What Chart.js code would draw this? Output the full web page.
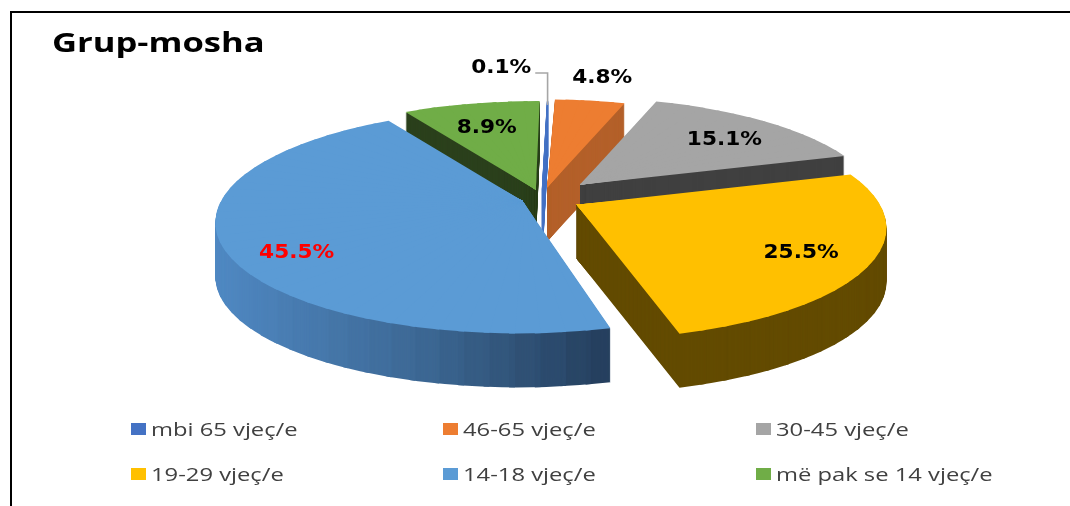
<!DOCTYPE html>
<html><head><meta charset="utf-8">
<script src="https://cdn.jsdelivr.net/npm/chart.js@4.4.0/dist/chart.umd.min.js"></script>
<style>
html,body{margin:0;padding:0;background:#fff;width:1070px;height:506px;overflow:hidden;position:relative;}
#frame{position:absolute;left:10px;top:11px;width:1070px;height:506px;border-top:2px solid #000;border-left:2px solid #000;box-sizing:border-box;}
#title{position:absolute;left:52px;top:24px;font:bold 26px 'Open Sans';color:#000;transform:scaleX(1.33);transform-origin:left top;white-space:nowrap;}
canvas{position:absolute;left:0;top:0;}
.lg{position:absolute;display:flex;align-items:center;height:26px;line-height:26px;font:19px 'Open Sans';color:#404040;transform:scaleX(1.25);transform-origin:left center;white-space:nowrap;}
.lg i{display:inline-block;width:12px;height:12px;margin-right:4px;}
</style></head>
<body>
<div id="frame"></div>
<canvas id="c" width="1070" height="506"></canvas>
<div id="title">Grup-mosha</div>
<div id="legend"></div>
<script>
// ---- data ----
const categories = ['mbi 65 vjeç/e', '46-65 vjeç/e', '30-45 vjeç/e', '19-29 vjeç/e', '14-18 vjeç/e', 'më pak se 14 vjeç/e'];
const shares = [0.1, 4.8, 15.1, 25.5, 45.5, 8.9];
const valueLabels = ['0.1%', '4.8%', '15.1%', '25.5%', '45.5%', '8.9%'];

// ---- styles ----
const topColors = ['#4472C4', '#ED7D31', '#A5A5A5', '#FFC000', '#5B9BD5', '#70AD47'];
const sideColors = ['#4472C4', '#B4602A', '#404040', '#634B00', 'GRAD', '#2B401C'];
const labelColors = ['#000', '#000', '#000', '#000', '#FF0000', '#000'];
const explode = [0.08, 0.10, 0.18, 0.13, 0.07, 0.08];     // point explosion (fraction of radius)
// label placement: [angle shift from slice middle (deg), radius fraction]
const labelPlace = [[-8.0, 1.478], [0.2, 1.321], [3.2, 0.72], [2.1, 0.79], [-9.6, 0.813], [-0.8, 0.688]];

// 3-D camera (perspective projection of the pie plane) and depth
const CAM = {X0: 542, Y0: 198, A: 300, B: 107.4, q: 0.18, depth: 54};
const P = (u, v) => { const s = 1 / (1 - CAM.q * v); return [CAM.X0 + CAM.A * u * s, CAM.Y0 + CAM.B * v * s]; };

function drawWith(arc, ctx, fill) {
  const saved = arc.options;
  const o = Object.create(saved);
  Object.defineProperty(o, 'backgroundColor', {value: fill});
  arc.options = o;
  arc.draw(ctx);
  arc.options = saved;
}

// split every arc element into thin wedges, each with its own affine map of the projection
function slicePieces(arc, r0) {
  const off = (arc.options.offset || 0) / 4;
  const mid = (arc.startAngle + arc.endAngle) / 2;
  const fix = 1 - Math.sin(Math.min(Math.PI, arc.circumference));
  const R = arc.outerRadius + off * fix;
  const ax = arc.x + Math.cos(mid) * off, ay = arc.y + Math.sin(mid) * off;
  const eu = Math.cos(mid) * off / r0, ev = Math.sin(mid) * off / r0;
  const S0 = P(eu, ev);
  const n = Math.max(1, Math.ceil(arc.circumference / (4 * Math.PI / 180)));
  const out = [];
  for (let k = 0; k < n; k++) {
    const f1 = arc.startAngle + arc.circumference * k / n;
    const f2 = arc.startAngle + arc.circumference * (k + 1) / n;
    const S1 = P(eu + Math.cos(f1), ev + Math.sin(f1));
    const S2 = P(eu + Math.cos(f2), ev + Math.sin(f2));
    const d1x = R * Math.cos(f1), d1y = R * Math.sin(f1), d2x = R * Math.cos(f2), d2y = R * Math.sin(f2);
    const det = d1x * d2y - d2x * d1y;
    const u1x = S1[0] - S0[0], u1y = S1[1] - S0[1], u2x = S2[0] - S0[0], u2y = S2[1] - S0[1];
    const a = (u1x * d2y - u2x * d1y) / det, c = (u2x * d1x - u1x * d2x) / det;
    const b = (u1y * d2y - u2y * d1y) / det, d = (u2y * d1x - u1y * d2x) / det;
    const e = S0[0] - (a * ax + c * ay), f = S0[1] - (b * ax + d * ay);
    out.push({m: [a, b, c, d, e, f], f1, f2, ax, ay, R, sx: (S1[0] + S2[0]) / 2});
  }
  return out;
}

function drawPiece(ctx, arc, pc, fill, dy) {
  ctx.save();
  const m = pc.m;
  ctx.setTransform(m[0], m[1], m[2], m[3], m[4], m[5] + dy);
  const dl = 1.5, L = 2 * pc.R;
  const c1 = Math.cos(pc.f1), s1 = Math.sin(pc.f1), c2 = Math.cos(pc.f2), s2 = Math.sin(pc.f2);
  const fm = (pc.f1 + pc.f2) / 2, cm = Math.cos(fm), sm = Math.sin(fm);
  const n1x = s1 * dl, n1y = -c1 * dl, n2x = -s2 * dl, n2y = c2 * dl;
  const bx = -cm * dl * 2, by = -sm * dl * 2;
  ctx.beginPath();
  ctx.moveTo(pc.ax + n1x + bx, pc.ay + n1y + by);
  ctx.lineTo(pc.ax + n1x + L * c1, pc.ay + n1y + L * s1);
  ctx.lineTo(pc.ax + 1.2 * L * cm, pc.ay + 1.2 * L * sm);
  ctx.lineTo(pc.ax + n2x + L * c2, pc.ay + n2y + L * s2);
  ctx.lineTo(pc.ax + n2x + bx, pc.ay + n2y + by);
  ctx.closePath();
  ctx.clip();
  drawWith(arc, ctx, fill);
  ctx.restore();
}

function hex(c) { return [1, 3, 5].map(i => parseInt(c.substr(i, 2), 16)); }
function blueSide(x) {
  const stops = [hex('#5089C3'), hex('#3D6894'), hex('#233B58')];
  let t = Math.min(1, Math.max(0, (x - 215) / 410)) * 2;
  const k = Math.min(1, Math.floor(t)); t -= k;
  const c = stops[k].map((v, j) => Math.round(v + (stops[k + 1][j] - v) * t));
  return 'rgb(' + c.join(',') + ')';
}

const pie3d = {
  id: 'pie3d',
  beforeDatasetsDraw(chart) {
    const ctx = chart.ctx;
    const arcs = chart.getDatasetMeta(0).data;
    const r0 = arcs[0].outerRadius;
    const pieces = arcs.map(a => slicePieces(a, r0));
    const order = arcs.map((a, i) => i).sort((i, j) =>
      Math.sin((arcs[i].startAngle + arcs[i].endAngle) / 2) - Math.sin((arcs[j].startAngle + arcs[j].endAngle) / 2));
    order.forEach(i => {
      for (let dy = CAM.depth; dy >= 1; dy--) {
        pieces[i].forEach(pc => {
          const fill = sideColors[i] === 'GRAD' ? blueSide(pc.sx) : sideColors[i];
          drawPiece(ctx, arcs[i], pc, fill, dy);
        });
      }
    });
    arcs.forEach((a, i) => pieces[i].forEach(pc => drawPiece(ctx, a, pc, a.options.backgroundColor, 0)));
    return false;
  },
  afterDraw(chart) {
    const ctx = chart.ctx;
    const arcs = chart.getDatasetMeta(0).data;
    const r0 = arcs[0].outerRadius;
    ctx.save();
    ctx.setTransform(1, 0, 0, 1, 0, 0);
    ctx.font = 'bold 19px "DejaVu Sans"';
    ctx.textAlign = 'center';
    ctx.textBaseline = 'middle';
    arcs.forEach((arc, i) => {
      const off = (arc.options.offset || 0) / 4;
      const mid = (arc.startAngle + arc.endAngle) / 2;
      const eu = Math.cos(mid) * off / r0, ev = Math.sin(mid) * off / r0;
      const ang = mid + labelPlace[i][0] * Math.PI / 180;
      const fr = labelPlace[i][1];
      const [lx, ly] = P(eu + fr * Math.cos(ang), ev + fr * Math.sin(ang));
      const w = ctx.measureText(valueLabels[i]).width * 1.14;
      if (fr > 1.4) {
        const [ex, ey] = P(eu + Math.cos(mid), ev + Math.sin(mid));
        ctx.strokeStyle = '#A6A6A6';
        ctx.lineWidth = 1.6;
        ctx.beginPath();
        ctx.moveTo(lx + w / 2 + 4, ly + 5);
        ctx.lineTo(ex, ly + 5);
        ctx.lineTo(ex, ey + 4);
        ctx.stroke();
      }
      ctx.save();
      ctx.translate(lx, ly);
      ctx.scale(1.14, 1);
      ctx.fillStyle = labelColors[i];
      ctx.fillText(valueLabels[i], 0, 0);
      ctx.restore();
    });
    ctx.restore();
  }
};

new Chart(document.getElementById('c'), {
  type: 'pie',
  data: {
    labels: categories,
    datasets: [{data: shares, backgroundColor: topColors, borderColor: topColors,
                borderWidth: [1.2, 0, 0, 0, 0, 0], offset: explode.map(e => e * 4 * 186)}]
  },
  options: {
    responsive: false, animation: false, events: [], rotation: 1,
    layout: {padding: 0},
    plugins: {legend: {display: false}, tooltip: {enabled: false}, title: {display: false}}
  },
  plugins: [pie3d]
});

// HTML legend (3 columns x 2 rows)
const colX = [131, 443, 756], rowTop = [416, 461];
const lg = document.getElementById('legend');
categories.forEach((c, i) => {
  const d = document.createElement('div');
  d.className = 'lg';
  d.style.left = colX[i % 3] + 'px';
  d.style.top = rowTop[Math.floor(i / 3)] + 'px';
  d.innerHTML = '<i style="background:' + topColors[i] + '"></i>';
  d.appendChild(document.createTextNode(c));
  lg.appendChild(d);
});
</script>
</body></html>
